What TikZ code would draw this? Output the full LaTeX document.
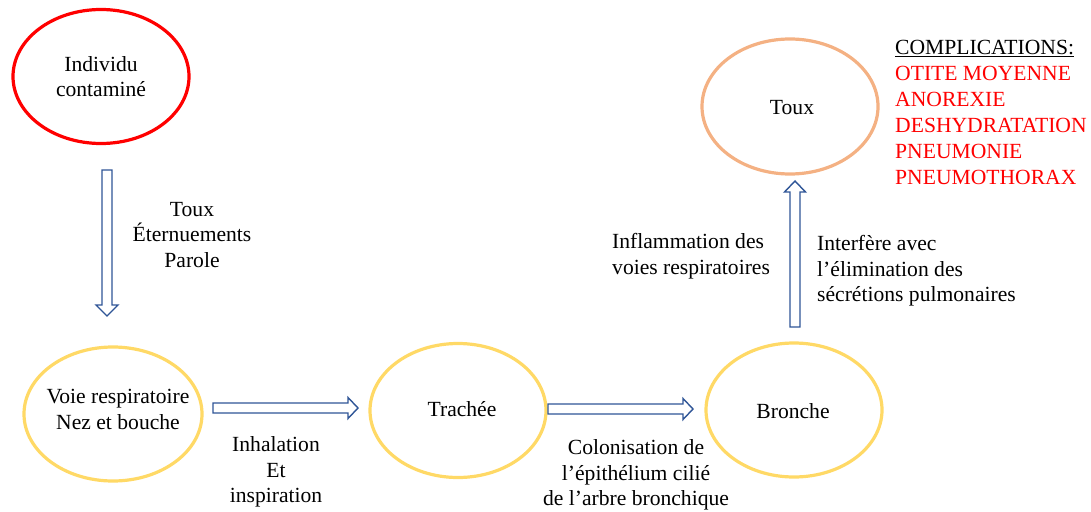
\documentclass[tikz,border=0pt]{standalone}
\usepackage{fontspec}
\setmainfont{Liberation Serif}
\usetikzlibrary{shapes.geometric}
\definecolor{redc}{HTML}{FF0000}
\definecolor{yellowc}{HTML}{FFD966}
\definecolor{orangec}{HTML}{F4B183}
\definecolor{arrowc}{HTML}{2F5597}
\tikzset{
  oval/.style={ellipse, line width=3.2pt, minimum width=176pt, minimum height=134pt, inner sep=0pt, align=center, font=\fontsize{21.6}{25.5}\selectfont},
  lbl/.style={inner sep=0pt, font=\fontsize{21.6}{25.5}\selectfont},
  blockarrow/.style={draw=arrowc, line width=1.4pt, fill=white, line join=miter},
}
\begin{document}
\begin{tikzpicture}[x=1pt,y=-1pt]
\useasboundingbox (0,0) rectangle (1091,511);
% ellipses
\node[oval, draw=redc] (ind) at (101,76.5) {Individu\\contaminé};
\node[oval, draw=yellowc, minimum width=178pt] (voie) at (113,414) {};
\node[lbl, align=center] (voietxt) at (118,409.5) {Voie respiratoire\\Nez et bouche};
\node[oval, draw=yellowc] (trach) at (458,410.5) {};
\node[lbl] (trachtxt) at (462,409) {Trachée};
\node[oval, draw=yellowc] (bron) at (794,410) {};
\node[lbl] (brontxt) at (793,411) {Bronche};
\node[oval, draw=orangec, minimum height=135pt] (toux) at (790,106.5) {};
\node[lbl] (touxtxt) at (792,108) {Toux};
% block arrows
\draw[blockarrow] (102,170) -- (112,170) -- (112,305) -- (118,305) -- (107,316) -- (96,305) -- (102,305) -- cycle;
\draw[blockarrow] (213,403) -- (348,403) -- (348,397.5) -- (358,408) -- (348,418.5) -- (348,413) -- (213,413) -- cycle;
\draw[blockarrow] (548,404) -- (683,404) -- (683,398.5) -- (693,409) -- (683,419.5) -- (683,414) -- (548,414) -- cycle;
\draw[blockarrow] (790,327) -- (790,192) -- (784.5,192) -- (795,181) -- (805.5,192) -- (800,192) -- (800,327) -- cycle;
% labels
\node[lbl, align=center] (l1) at (192,235) {Toux\\Éternuements\\Parole};
\node[lbl, align=center] (l2) at (276,472) {Inhalation\\Et\\inspiration};
\node[lbl, align=center] (l3) at (636,475) {Colonisation de\\l’épithélium cilié\\de l’arbre bronchique};
\node[lbl, align=left, anchor=west] (l4) at (612,256) {Inflammation des\\voies respiratoires};
\node[lbl, align=left, anchor=west] (l5) at (817,271) {Interfère avec\\l’élimination des\\sécrétions pulmonaires};
\node[lbl, align=left, anchor=west, font=\fontsize{21.6}{26}\selectfont] (comp) at (895,112) {\underline{COMPLICATIONS:}\\\textcolor{redc}{OTITE MOYENNE}\\\textcolor{redc}{ANOREXIE}\\\textcolor{redc}{DESHYDRATATION}\\\textcolor{redc}{PNEUMONIE}\\\textcolor{redc}{PNEUMOTHORAX}};
\end{tikzpicture}
\end{document}
